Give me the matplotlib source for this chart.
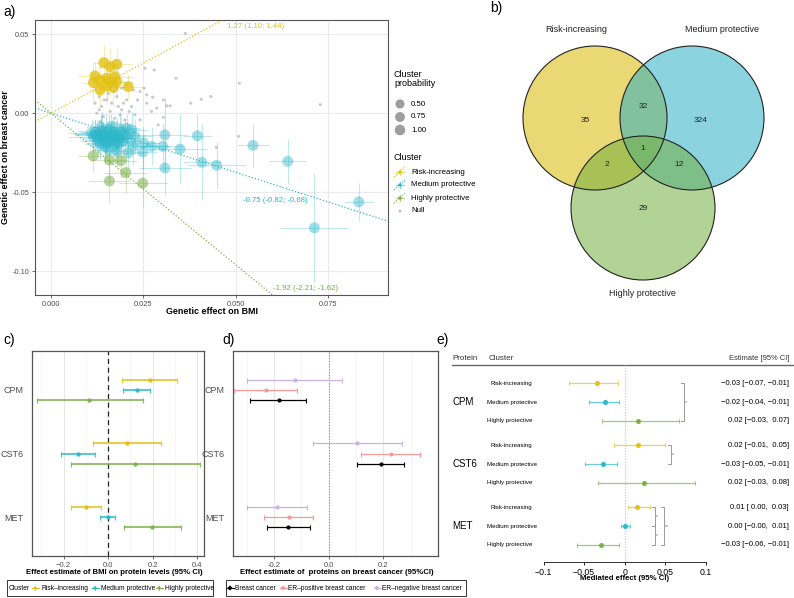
import numpy as np
import matplotlib
matplotlib.use('Agg')
import matplotlib.pyplot as plt
from matplotlib.patches import Circle, Rectangle

plt.rcParams['font.family'] = ['Liberation Sans', 'DejaVu Sans']
plt.rcParams['axes.unicode_minus'] = True

# ---------------- data ----------------
# panel a: genetic effects
yel_x = [0.0143, 0.0160, 0.0178, 0.0119, 0.0151, 0.0173, 0.0133, 0.0115, 0.0160, 0.0178, 0.0133, 0.0169, 0.0209, 0.0151]
yel_y = [0.0319, 0.0294, 0.0309, 0.0235, 0.0221, 0.0231, 0.0206, 0.0193, 0.0200, 0.0200, 0.0147, 0.0164, 0.0168, 0.0172]
yel_xe = [0.0030, 0.0035, 0.0040, 0.0045, 0.0030, 0.0050, 0.0035, 0.0030, 0.0040, 0.0045, 0.0030, 0.0035, 0.0040, 0.0035]
yel_ye = [0.0110, 0.0120, 0.0100, 0.0090, 0.0130, 0.0110, 0.0100, 0.0120, 0.0090, 0.0110, 0.0100, 0.0120, 0.0080, 0.0110]

cya_x = [0.0308, 0.0396, 0.0302, 0.0349, 0.0272, 0.0250, 0.0248, 0.0308, 0.0408, 0.0448,
         0.0546, 0.0640, 0.0712, 0.0832, 0.0227, 0.0209, 0.0223, 0.0205, 0.0178, 0.0218,
         0.0120, 0.0125, 0.0130, 0.0135, 0.0140, 0.0145, 0.0150, 0.0155, 0.0160, 0.0165,
         0.0170, 0.0175, 0.0128, 0.0138, 0.0148, 0.0158, 0.0168, 0.0178, 0.0185, 0.0190,
         0.0115, 0.0118, 0.0142, 0.0152, 0.0162, 0.0133, 0.0172, 0.0195, 0.0200, 0.0110,
         0.0147, 0.0182, 0.0156, 0.0205, 0.0136, 0.0163, 0.0188]
cya_y = [-0.0137, -0.0143, -0.0210, -0.0227, -0.0210, -0.0189, -0.0246, -0.0347, -0.0311, -0.0330,
         -0.0204, -0.0305, -0.0725, -0.0561, -0.0147, -0.0252, -0.0210, -0.0095, -0.0242, -0.0105,
         -0.0120, -0.0140, -0.0160, -0.0130, -0.0150, -0.0170, -0.0125, -0.0145, -0.0165, -0.0135,
         -0.0155, -0.0180, -0.0175, -0.0110, -0.0190, -0.0105, -0.0120, -0.0140, -0.0160, -0.0120,
         -0.0150, -0.0135, -0.0138, -0.0158, -0.0148, -0.0195, -0.0200, -0.0175, -0.0140, -0.0125,
         -0.0210, -0.0195, -0.0230, -0.0160, -0.0090, -0.0085, -0.0100]
cya_xe = [0.0060, 0.0040, 0.0055, 0.0072, 0.0050, 0.0045, 0.0040, 0.0070, 0.0052, 0.0080,
          0.0043, 0.0050, 0.0092, 0.0041, 0.0045, 0.0040, 0.0050, 0.0035, 0.0040, 0.0045,
          0.0045, 0.0060, 0.0050, 0.0070, 0.0040, 0.0055, 0.0065, 0.0045, 0.0050, 0.0060,
          0.0040, 0.0055, 0.0050, 0.0065, 0.0045, 0.0035, 0.0050, 0.0060, 0.0045, 0.0040,
          0.0070, 0.0055, 0.0050, 0.0045, 0.0060, 0.0040, 0.0050, 0.0045, 0.0055, 0.0065,
          0.0040, 0.0050, 0.0045, 0.0050, 0.0040, 0.0045, 0.0050]
cya_ye = [0.0230, 0.0140, 0.0150, 0.0220, 0.0120, 0.0100, 0.0110, 0.0170, 0.0240, 0.0150,
          0.0137, 0.0140, 0.0340, 0.0120, 0.0110, 0.0100, 0.0120, 0.0090, 0.0100, 0.0110,
          0.0080, 0.0100, 0.0090, 0.0110, 0.0085, 0.0095, 0.0120, 0.0080, 0.0100, 0.0090,
          0.0110, 0.0085, 0.0095, 0.0120, 0.0080, 0.0100, 0.0090, 0.0110, 0.0085, 0.0095,
          0.0100, 0.0090, 0.0080, 0.0110, 0.0085, 0.0095, 0.0120, 0.0080, 0.0100, 0.0090,
          0.0110, 0.0085, 0.0095, 0.0100, 0.0090, 0.0080, 0.0110]

grn_x = [0.0114, 0.0158, 0.0189, 0.0202, 0.0158, 0.0248]
grn_y = [-0.0270, -0.0296, -0.0300, -0.0376, -0.0429, -0.0443]
grn_xe = [0.0040, 0.0050, 0.0045, 0.0060, 0.0055, 0.0065]
grn_ye = [0.0100, 0.0120, 0.0110, 0.0130, 0.0140, 0.0150]

null_x = [0.0363, 0.0254, 0.0279, 0.0338, 0.0509, 0.0432, 0.0406, 0.0378, 0.0728, 0.0507,
          0.0447, 0.0304, 0.0322, 0.0313, 0.0286, 0.0304, 0.0272, 0.0259, 0.0252, 0.0259,
          0.0241, 0.0275, 0.0234, 0.0218, 0.0227, 0.0205, 0.0191, 0.0178, 0.0164, 0.0151,
          0.0137, 0.0130, 0.0124, 0.0142, 0.0160, 0.0173, 0.0187, 0.0200, 0.0133, 0.0119,
          0.0155, 0.0169, 0.0182, 0.0196, 0.0211, 0.0131, 0.0144, 0.0178, 0.0241, 0.0290,
          0.0223, 0.0205, 0.0191]
null_y = [0.0504, 0.0284, 0.0273, 0.0221, 0.0189, 0.0105, 0.0088, 0.0063, 0.0053, -0.0147,
          -0.0216, 0.0084, 0.0046, 0.0046, 0.0032, -0.0027, 0.0011, 0.0063, 0.0158, 0.0116,
          0.0137, 0.0101, 0.0084, 0.0042, -0.0011, 0.0084, 0.0021, 0.0105, 0.0063, 0.0084,
          0.0042, 0.0105, 0.0000, -0.0021, 0.0011, -0.0032, -0.0011, -0.0042, -0.0053, 0.0063,
          0.0126, 0.0137, 0.0042, 0.0063, 0.0011, 0.0021, 0.0084, -0.0063, -0.0042, -0.0074,
          0.0147, 0.0179, 0.0158]

ivw_est = [1.27, -0.75, -1.92]
ivw_lo = [1.10, -0.82, -2.21]
ivw_hi = [1.44, -0.68, -1.62]
cluster_names = ['Risk-increasing', 'Medium protective', 'Highly protective', 'Null']
prob_levels = [0.50, 0.75, 1.00]

# panel b: venn counts
venn_sets = ['Risk-increasing', 'Medium protective', 'Highly protective']
venn_only = [35, 324, 29]
venn_pairs = {'RM': 32, 'RH': 2, 'MH': 12}
venn_all = 1

# panel c: BMI -> protein
proteins = ['CPM', 'CST6', 'MET']
c_est = [[0.187, 0.129, -0.084], [0.084, -0.136, 0.123], [-0.099, -0.001, 0.199]]
c_lo = [[0.064, 0.067, -0.319], [-0.069, -0.213, -0.168], [-0.166, -0.037, 0.070]]
c_hi = [[0.310, 0.190, 0.156], [0.237, -0.058, 0.412], [-0.031, 0.033, 0.327]]

# panel d: protein -> breast cancer  (Breast cancer, ER+, ER-)
d_outcomes = ['Breast cancer', 'ER\u2013positive breast cancer', 'ER\u2013negative breast cancer']
d_est = [[-0.183, -0.231, -0.123], [0.190, 0.227, 0.105], [-0.147, -0.145, -0.189]]
d_lo = [[-0.287, -0.347, -0.297], [0.105, 0.119, -0.056], [-0.227, -0.235, -0.299]]
d_hi = [[-0.083, -0.115, 0.049], [0.276, 0.335, 0.267], [-0.067, -0.056, -0.078]]

# panel e: mediated effects
e_est = [[-0.0346, -0.0239, 0.0160], [0.0160, -0.0267, 0.0235], [0.0152, 0.0008, -0.0288]]
e_lo = [[-0.0690, -0.0436, -0.0284], [-0.0128, -0.0486, -0.0325], [0.0045, -0.0045, -0.0584]]
e_hi = [[-0.0086, -0.0074, 0.0667], [0.0498, -0.0095, 0.0868], [0.0309, 0.0062, -0.0070]]
e_text = [["\u22120.03 [\u22120.07, \u22120.01]", "\u22120.02 [\u22120.04, \u22120.01]", "0.02 [\u22120.03,  0.07]"],
          ["0.02 [\u22120.01,  0.05]", "\u22120.03 [\u22120.05, \u22120.01]", "0.02 [\u22120.03,  0.08]"],
          ["0.01 [ 0.00,  0.03]", "0.00 [\u22120.00,  0.01]", "\u22120.03 [\u22120.06, \u22120.01]"]]
e_sig = [(0, 0, 2, '*', 0.0732), (1, 0, 1, '*', 0.0572), (2, 0, 1, '*', 0.0374),
         (2, 1, 2, '*', 0.0374), (2, 0, 2, '**', 0.0485)]

# ---------------- style ----------------
YEL = '#E3C114'; CYA = '#2DB8CA'; GRN = '#7BB148'; NUL = '#BDBDBD'
YEL_T = '#E2BE1A'; CYA_T = '#1FBDD0'; GRN_T = '#6DB33F'
clcols = [YEL, CYA, GRN]
dcols = ['#000000', '#F59A9A', '#C9B3E3']
TXT = '#4D4D4D'

W, H = 794, 598
fig = plt.figure(figsize=(W / 100, H / 100), dpi=100)


def box(l, t, r, b):
    return [l / W, 1 - b / H, (r - l) / W, (b - t) / H]


ov = fig.add_axes([0, 0, 1, 1])
ov.set_xlim(0, W); ov.set_ylim(H, 0); ov.axis('off')
ov.set_zorder(5)

# ---------------- panel a ----------------
axa = fig.add_axes(box(35, 20, 388, 295))
xl = (-0.0043, 0.0911); yl = (-0.115, 0.0589)
axa.set_xlim(*xl); axa.set_ylim(*yl)
axa.grid(color='#EBEBEB', lw=0.8); axa.set_axisbelow(True)
for s in axa.spines.values():
    s.set_color('#555555'); s.set_linewidth(0.8)
axa.set_xticks([0, 0.025, 0.05, 0.075]); axa.set_xticklabels(['0.000', '0.025', '0.050', '0.075'])
axa.set_yticks([0.05, 0, -0.05, -0.10]); axa.set_yticklabels(['0.05', '0.00', '-0.05', '-0.10'])
axa.tick_params(length=2, width=0.6, color='#555555', labelsize=5.3, labelcolor=TXT, pad=2)

axa.scatter(null_x, null_y, s=5, color=NUL, alpha=0.8, edgecolors='none', zorder=1)
for xs, ys, xe, ye, col, ap in [(cya_x, cya_y, cya_xe, cya_ye, CYA, 0.45),
                                (grn_x, grn_y, grn_xe, grn_ye, GRN, 0.55),
                                (yel_x, yel_y, yel_xe, yel_ye, YEL, 0.8)]:
    axa.errorbar(xs, ys, xerr=xe, yerr=ye, fmt='none', ecolor=col, alpha=0.3, lw=0.8, zorder=2)
    axa.scatter(xs, ys, s=62, color=col, alpha=ap, edgecolors='none', zorder=3)
xx = np.linspace(xl[0], xl[1], 100)
for est, col in zip(ivw_est, [YEL, CYA, GRN]):
    axa.plot(xx, est * xx, ls=(0, (1, 1.6)), color=col, lw=0.9, zorder=2)
lab_pos = [(227, 27), (243, 201), (273, 288)]
for est, lo, hi, col, (px, py) in zip(ivw_est, ivw_lo, ivw_hi, [YEL_T, CYA_T, GRN_T], lab_pos):
    ov.text(px, py, f'{est:.2f} ({lo:.2f}; {hi:.2f})', color=col, fontsize=5.6, va='center', ha='left')

ov.text(3, 12, 'a)', fontsize=10, va='center', ha='left')
ov.text(6, 157, 'Genetic effect on breast cancer', fontsize=6.4, fontweight='bold', rotation=90,
        va='center', ha='center')
ov.text(212, 312, 'Genetic effect on BMI', fontsize=6.4, fontweight='bold', va='center', ha='center')

# legend of panel a
ov.text(394, 79, 'Cluster\nprobability', fontsize=6.5, va='center', ha='left', linespacing=1.0)
for p, yy in zip(prob_levels, [104, 117, 130]):
    ov.scatter([400], [yy], s=28 + 30 * p, color='#8C8C8C', alpha=0.85, edgecolors='none')
    ov.text(411, yy, f'{p:.2f}', fontsize=5.7, va='center', ha='left')
ov.text(394, 158, 'Cluster', fontsize=6.5, va='center', ha='left')
for name, col, yy in zip(cluster_names, [YEL, CYA, GRN, NUL], [172, 185, 198, 211]):
    if name == 'Null':
        ov.scatter([400], [yy], s=4, color=NUL, edgecolors='none')
    else:
        ov.plot([394, 405], [yy + 5, yy - 5], ls=(0, (1, 1.5)), color=col, lw=0.8)
        ov.plot([396, 404], [yy, yy], color=col, lw=0.7, alpha=0.6)
        ov.plot([400, 400], [yy - 3, yy + 3], color=col, lw=0.7, alpha=0.6)
        ov.scatter([400], [yy], s=6, color=col, edgecolors='none')
    ov.text(411, yy, name, fontsize=5.7, va='center', ha='left')

# ---------------- panel b ----------------
ov.text(490, 8, 'b)', fontsize=10, va='center', ha='left')
centres = [(595, 118), (692, 118), (643, 208)]
vcols = ['#D7B900', '#2DAFC3', '#73AF41']
for (cx, cy), col in zip(centres, vcols):
    ov.add_patch(Circle((cx, cy), 72, facecolor=col, alpha=0.55, edgecolor='none'))
for (cx, cy) in centres:
    ov.add_patch(Circle((cx, cy), 72, facecolor='none', edgecolor='#222222', lw=0.8))
for name, (tx, ty) in zip(venn_sets, [(576, 30), (722, 30), (642, 294)]):
    ov.text(tx, ty, name, fontsize=6.5, ha='center', va='center', color='#222222')
for v, (tx, ty) in zip(venn_only, [(585, 120), (701, 120), (643, 208)]):
    ov.text(tx, ty, str(v), fontsize=6, ha='center', va='center', color='#222222')
for key, (tx, ty) in zip(['RM', 'RH', 'MH'], [(643, 106), (607, 164), (679, 164)]):
    ov.text(tx, ty, str(venn_pairs[key]), fontsize=6, ha='center', va='center', color='#222222')
ov.text(643, 149, str(venn_all), fontsize=6, ha='center', va='center', color='#222222')


# ---------------- panel c & d ----------------
def forest_axes(rect, xlim, xticks, xticklabels):
    ax = fig.add_axes(rect)
    ax.set_xlim(*xlim); ax.set_ylim(3.614, 0.386)
    ax.set_xticks(xticks); ax.set_xticklabels(xticklabels)
    ax.set_xticks(np.arange(-0.3, 0.45, 0.1), minor=True)
    ax.grid(axis='x', which='major', color='#E6E6E6', lw=0.7)
    ax.grid(axis='x', which='minor', color='#F2F2F2', lw=0.5)
    ax.set_axisbelow(True)
    ax.set_yticks([1, 2, 3]); ax.set_yticklabels(proteins)
    ax.tick_params(axis='x', length=2, width=0.6, labelsize=5.5, labelcolor=TXT, color='#555555', pad=2)
    ax.tick_params(axis='y', length=0, labelsize=6.5, labelcolor=TXT, pad=6)
    ax.tick_params(which='minor', length=0)
    for s in ax.spines.values():
        s.set_color('#555555'); s.set_linewidth(0.9)
    return ax


axc = forest_axes(box(32, 351, 204, 556), (-0.342, 0.431), [-0.2, 0, 0.2, 0.4],
                  ['\u22120.2', '0.0', '0.2', '0.4'])
axc.axvline(0, color='#222222', lw=0.9, ls=(0, (4, 3)), zorder=1)
offs_c = [-0.165, 0, 0.165]
for p in range(3):
    for k in range(3):
        e = c_est[p][k]
        axc.errorbar([e], [p + 1 + offs_c[k]], xerr=[[e - c_lo[p][k]], [c_hi[p][k] - e]], fmt='o',
                     ms=2.2, color=clcols[k], ecolor=clcols[k], elinewidth=1.3, capsize=1.8,
                     capthick=0.9, alpha=0.85, zorder=3)
ov.text(3, 340, 'c)', fontsize=10, va='center', ha='left')
ov.text(114, 572, 'Effect estimate of BMI on protein levels (95% CI)', fontsize=5.6,
        fontweight='bold', va='center', ha='center')

axd = forest_axes(box(233, 351, 438, 556), (-0.35, 0.333), [-0.2, 0, 0.2],
                  ['-0.2', '0.0', '0.2'])
axd.axvline(0, color='#888888', lw=0.8, ls=(0, (1, 1.5)), zorder=1)
offs_d = [0.165, 0, -0.165]
for p in range(3):
    for k in range(3):
        e = d_est[p][k]
        axd.errorbar([e], [p + 1 + offs_d[k]], xerr=[[e - d_lo[p][k]], [d_hi[p][k] - e]], fmt='o',
                     ms=2.0, color=dcols[k], ecolor=dcols[k], elinewidth=0.9, capsize=1.8,
                     capthick=0.8, zorder=3)
ov.text(222, 340, 'd)', fontsize=10, va='center', ha='left')
ov.text(337, 572, 'Effect estimate of  proteins on breast cancer (95%CI)', fontsize=5.6,
        fontweight='bold', va='center', ha='center')

# bottom legends
ly = 588
ov.add_patch(Rectangle((7, 580), 206, 16, facecolor='white', edgecolor='#333333', lw=0.7))
ov.text(9, ly, 'Cluster', fontsize=4.8, va='center', ha='left')
for name, col, mx in zip(['Risk\u2013increasing', 'Medium protective', 'Highly protective'], clcols,
                         [35, 95, 159]):
    ov.plot([mx - 3.5, mx + 3.5], [ly, ly], color=col, lw=0.8)
    ov.plot([mx, mx], [ly - 2, ly + 2], color=col, lw=0.6)
    ov.scatter([mx], [ly], s=5, color=col, edgecolors='none')
    ov.text(mx + 6, ly, name, fontsize=4.8, va='center', ha='left')
ov.add_patch(Rectangle((226, 580), 240, 16, facecolor='white', edgecolor='#333333', lw=0.7))
for name, col, mx in zip(d_outcomes, dcols, [230, 283, 377]):
    ov.plot([mx - 3.5, mx + 3.5], [ly, ly], color=col, lw=0.8)
    ov.scatter([mx], [ly], s=7, marker='D', color=col, edgecolors='none')
    ov.text(mx + 5, ly, name, fontsize=4.8, va='center', ha='left')

# ---------------- panel e ----------------
ov.text(436, 340, 'e)', fontsize=10, va='center', ha='left')
axe = fig.add_axes(box(448, 352, 794, 562))
axe.set_xlim(-0.2181, 0.209); axe.set_ylim(9.505, -1.665)
for k in ['top', 'right', 'left']:
    axe.spines[k].set_visible(False)
axe.spines['bottom'].set_bounds(-0.1, 0.1)
axe.spines['bottom'].set_color('#333333'); axe.spines['bottom'].set_linewidth(0.7)
axe.set_yticks([])
axe.set_xticks([-0.1, -0.05, 0, 0.05, 0.1])
axe.set_xticklabels(['\u22120.1', '\u22120.05', '0', '0.05', '0.1'])
axe.tick_params(axis='x', length=2.5, width=0.6, labelsize=6.3, pad=1.5)
axe.patch.set_alpha(0)
axe.axhline(-1.0, xmin=0.0116, xmax=1, color='#666666', lw=1.0)
axe.plot([0, 0], [-1.0, 9.505], ls=(0, (1, 1.2)), color='#CCCCCC', lw=0.9)
yt = axe.get_yaxis_transform()
axe.text(0.0116, -1.34, 'Protein', transform=yt, fontsize=5.8, va='center', ha='left', color='#333333')
axe.text(0.118, -1.34, 'Cluster', transform=yt, fontsize=5.8, va='center', ha='left', color='#333333')
axe.text(0.9855, -1.34, 'Estimate [95% CI]', transform=yt, fontsize=5.4, va='center', ha='right',
         color='#333333')
for p in range(3):
    axe.text(0.0116, p * 3.3 + 1, proteins[p], transform=yt, fontsize=7, va='center', ha='left')
    for k in range(3):
        pos = p * 3.3 + k
        e = e_est[p][k]
        axe.errorbar([e], [pos], xerr=[[e - e_lo[p][k]], [e_hi[p][k] - e]], fmt='none',
                     ecolor=clcols[k], elinewidth=0.9, capsize=1.5, capthick=0.8, alpha=0.7)
        axe.plot([e], [pos], 'o', ms=3.6, color=clcols[k], mec='none')
        axe.text(0.122 if k == 0 else 0.112, pos, cluster_names[k], transform=yt, fontsize=4.4,
                 va='center', ha='left')
        axe.text(0.9855, pos, e_text[p][k], transform=yt, fontsize=5.5, va='center', ha='right')
for p, k1, k2, lab, bx in e_sig:
    y1 = p * 3.3 + k1; y2 = p * 3.3 + k2
    axe.plot([bx - 0.0035, bx, bx, bx - 0.0035], [y1, y1, y2, y2], color='#999999', lw=0.7)
    axe.text(bx + 0.0015, (y1 + y2) / 2, lab, fontsize=3.6, va='center', ha='left', color='#666666')
ov.text(624.7, 579, 'Mediated effect (95% CI)', fontsize=5.6, fontweight='bold', va='center', ha='center')

fig.savefig('out.png', dpi=100)
